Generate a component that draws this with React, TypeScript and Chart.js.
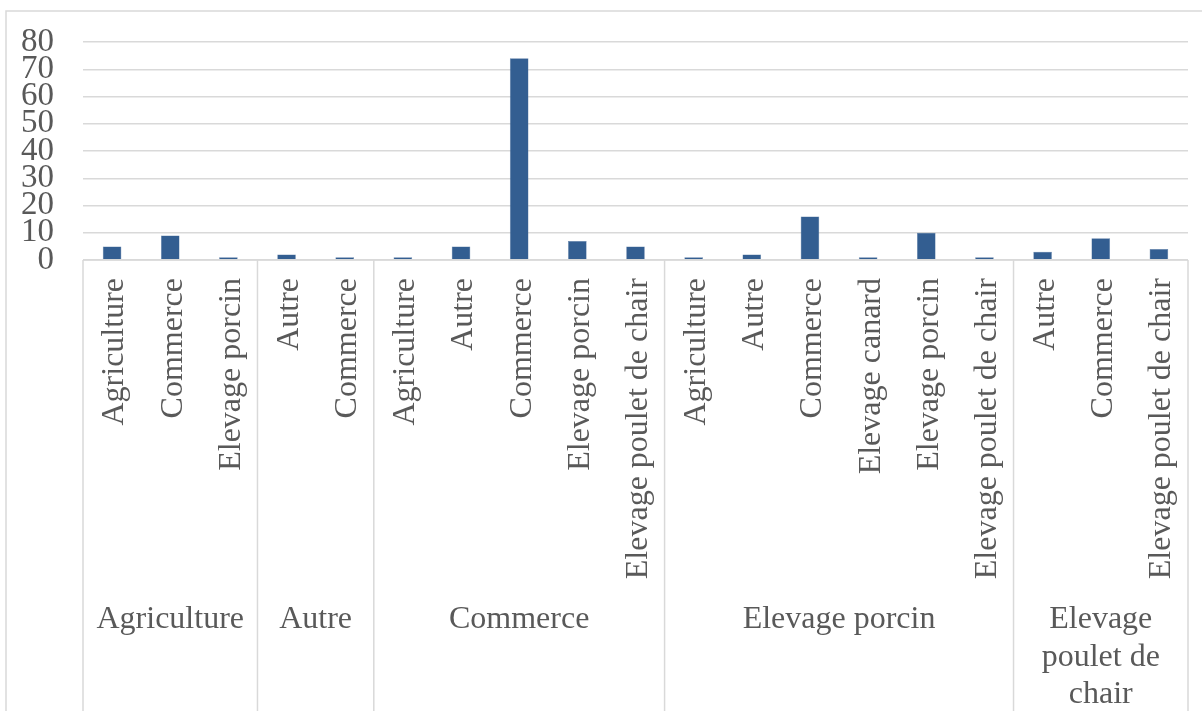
import React, { useEffect, useRef } from "react";
import { Chart, registerables } from "chart.js";

Chart.register(...registerables);

const categories: string[] = [
  "Agriculture", "Commerce", "Elevage porcin",
  "Autre", "Commerce",
  "Agriculture", "Autre", "Commerce", "Elevage porcin", "Elevage poulet de chair",
  "Agriculture", "Autre", "Commerce", "Elevage canard", "Elevage porcin", "Elevage poulet de chair",
  "Autre", "Commerce", "Elevage poulet de chair",
];
const values: number[] = [
  5, 9, 1,
  2, 1,
  1, 5, 74, 7, 5,
  1, 2, 16, 1, 10, 1,
  3, 8, 4,
];
const groupLabels: string[][] = [
  ["Agriculture"],
  ["Autre"],
  ["Commerce"],
  ["Elevage porcin"],
  ["Elevage", "poulet de", "chair"],
];
const groupSizes: number[] = [3, 2, 5, 6, 3];
const yTicks: number[] = [0, 10, 20, 30, 40, 50, 60, 70, 80];

const FONT = "'Liberation Serif', 'Times New Roman', serif";
const TEXT = "#595959";
const LINE = "#d9d9d9";

const groupPlugin = {
  id: "groupAxis",
  afterDraw(chart: any) {
    const { ctx, chartArea, scales } = chart;
    const x = scales.x;
    const half = (x.getPixelForValue(1) - x.getPixelForValue(0)) / 2;
    const bottom = 711;
    ctx.save();
    ctx.strokeStyle = LINE;
    ctx.lineWidth = 1.5;
    ctx.beginPath();
    ctx.moveTo(6, bottom);
    ctx.lineTo(6, 11);
    ctx.lineTo(1202, 11);
    ctx.stroke();
    ctx.beginPath();
    ctx.moveTo(chartArea.left, chartArea.bottom);
    ctx.lineTo(chartArea.right, chartArea.bottom);
    ctx.stroke();
    let idx = 0;
    const bounds: number[] = [x.getPixelForValue(0) - half];
    groupSizes.forEach((n) => {
      idx += n;
      bounds.push(x.getPixelForValue(idx - 1) + half);
    });
    bounds.forEach((bx) => {
      ctx.beginPath();
      ctx.moveTo(bx, chartArea.bottom);
      ctx.lineTo(bx, bottom);
      ctx.stroke();
    });
    ctx.fillStyle = TEXT;
    ctx.font = `32px ${FONT}`;
    ctx.textAlign = "center";
    ctx.textBaseline = "middle";
    groupLabels.forEach((lines, i) => {
      const cx = (bounds[i] + bounds[i + 1]) / 2;
      lines.forEach((line, j) => {
        ctx.fillText(line, cx, chartArea.bottom + 360 + j * 37.5);
      });
    });
    ctx.restore();
  },
};

export default function App() {
  const ref = useRef<HTMLCanvasElement | null>(null);
  useEffect(() => {
    if (!ref.current) return;
    const chart = new Chart(ref.current, {
      type: "bar",
      data: {
        labels: categories,
        datasets: [
          {
            data: values,
            backgroundColor: "#335e91",
            borderColor: "#5a7ba4",
            borderWidth: 0.5,
            barPercentage: 0.32,
            categoryPercentage: 1,
          },
        ],
      },
      options: {
        animation: false,
        responsive: false,
        maintainAspectRatio: false,
        layout: { padding: { top: 42, left: 0, right: 14, bottom: 0 } },
        plugins: { legend: { display: false }, tooltip: { enabled: false } },
        scales: {
          x: {
            grid: { display: false, drawTicks: false },
            border: { display: false },
            ticks: {
              autoSkip: false,
              minRotation: 90,
              maxRotation: 90,
              padding: 18,
              labelOffset: 3,
              color: TEXT,
              font: { family: FONT, size: 32 },
            },
            afterFit: (s: any) => {
              s.height = 719 - 260;
              s.paddingLeft = 0;
              s.paddingRight = 0;
            },
          },
          y: {
            min: 0,
            max: 80,
            afterBuildTicks: (s: any) => {
              s.ticks = yTicks.map((v) => ({ value: v }));
            },
            grid: { color: LINE, lineWidth: 1.5, drawTicks: false },
            border: { display: false },
            ticks: {
              autoSkip: false,
              padding: 29,
              color: TEXT,
              font: { family: FONT, size: 33 },
            },
            afterFit: (s: any) => {
              s.width = 83;
              s.paddingTop = 0;
              s.paddingBottom = 0;
            },
          },
        },
      },
      plugins: [groupPlugin],
    });
    return () => chart.destroy();
  }, []);
  return (
    <div style={{ position: "fixed", left: 0, top: 0, width: 1202, height: 719, background: "#fff" }}>
      <canvas ref={ref} width={1202} height={719} style={{ width: 1202, height: 719 }} />
    </div>
  );
}
